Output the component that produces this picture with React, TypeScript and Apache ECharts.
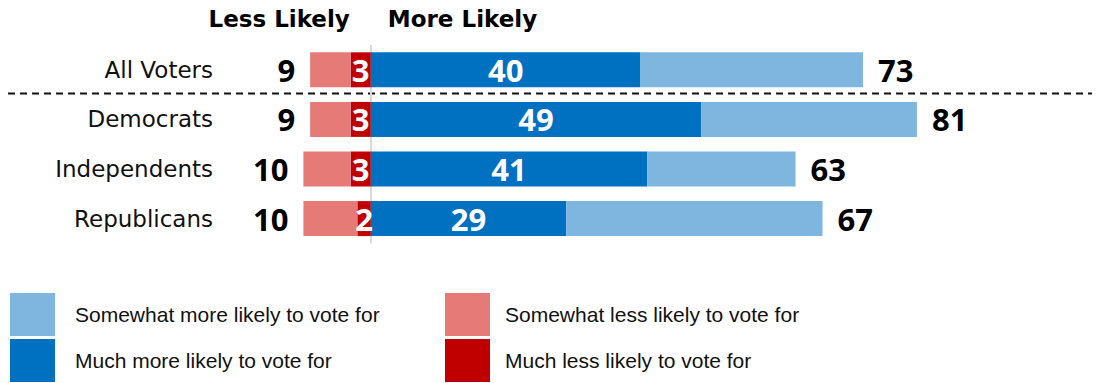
import React, { useEffect, useRef } from "react";
import * as echarts from "echarts";

const categories = ["All Voters", "Democrats", "Independents", "Republicans"];
const muchMore = [40, 49, 41, 29];
const somewhatMore = [33, 32, 22, 38];
const moreTotal = [73, 81, 63, 67];
const muchLess = [3, 3, 3, 2];
const somewhatLess = [6, 6, 7, 8];
const lessTotal = [9, 9, 10, 10];

const seriesNames = {
  somewhatMore: "Somewhat more likely to vote for",
  muchMore: "Much more likely to vote for",
  somewhatLess: "Somewhat less likely to vote for",
  muchLess: "Much less likely to vote for",
};

const colors = {
  somewhatMore: "#7FB6DF",
  muchMore: "#0070C0",
  somewhatLess: "#E57A77",
  muchLess: "#C00000",
};

const numFont = {
  fontFamily: "Open Sans",
  fontWeight: "bold" as const,
  fontSize: 31,
};

export default function App() {
  const ref = useRef<HTMLDivElement>(null);

  useEffect(() => {
    if (!ref.current) return;
    const chart = echarts.init(ref.current, null, { renderer: "svg" });

    const legendCommon = {
      orient: "vertical" as const,
      top: 293,
      height: 90,
      itemWidth: 45,
      itemHeight: 43,
      itemGap: 3,
      padding: 0,
      icon: "rect",
      selectedMode: false,
    };

    const option: any = {
      animation: false,
      backgroundColor: "#ffffff",
      grid: { left: 236, right: 51, top: 45, height: 198.4, containLabel: false },
      xAxis: {
        type: "value",
        min: -20,
        max: 100,
        show: false,
      },
      yAxis: {
        type: "category",
        inverse: true,
        data: categories,
        axisLine: { show: false },
        axisTick: { show: false },
        splitLine: { show: false },
        axisLabel: {
          margin: 23,
          fontSize: 23,
          fontFamily: "DejaVu Sans",
          color: "#111111",
        },
      },
      legend: [
        {
          ...legendCommon,
          left: 10,
          data: [seriesNames.somewhatMore, seriesNames.muchMore],
          textStyle: {
            fontFamily: "Liberation Sans",
            fontSize: 21,
            color: "#111111",
            padding: [0, 0, 0, 15],
          },
        },
        {
          ...legendCommon,
          left: 445,
          data: [seriesNames.somewhatLess, seriesNames.muchLess],
          textStyle: {
            fontFamily: "Liberation Sans",
            fontSize: 21,
            color: "#111111",
            padding: [0, 0, 0, 10],
          },
        },
      ],
      series: [
        {
          name: seriesNames.muchLess,
          type: "bar",
          stack: "s",
          barWidth: 35,
          data: muchLess.map((v) => -v),
          itemStyle: { color: colors.muchLess },
          label: {
            show: true,
            position: "inside",
            color: "#ffffff",
            ...numFont,
            formatter: (p: any) => String(muchLess[p.dataIndex]),
          },
          markLine: {
            silent: true,
            symbol: "none",
            label: { show: false },
            lineStyle: { color: "#d9d9d9", width: 2, type: "solid" },
            data: [{ xAxis: 0 }],
            z: 1,
          },
        },
        {
          name: seriesNames.somewhatLess,
          type: "bar",
          stack: "s",
          barWidth: 35,
          data: somewhatLess.map((v) => -v),
          itemStyle: { color: colors.somewhatLess },
          label: {
            show: true,
            position: "left",
            distance: 15,
            color: "#000000",
            ...numFont,
            formatter: (p: any) => String(lessTotal[p.dataIndex]),
          },
        },
        {
          name: seriesNames.muchMore,
          type: "bar",
          stack: "s",
          barWidth: 35,
          data: muchMore,
          itemStyle: { color: colors.muchMore },
          label: {
            show: true,
            position: "inside",
            color: "#ffffff",
            ...numFont,
            formatter: (p: any) => String(muchMore[p.dataIndex]),
          },
        },
        {
          name: seriesNames.somewhatMore,
          type: "bar",
          stack: "s",
          barWidth: 35,
          data: somewhatMore,
          itemStyle: { color: colors.somewhatMore },
          label: {
            show: true,
            position: "right",
            distance: 15,
            color: "#000000",
            ...numFont,
            formatter: (p: any) => String(moreTotal[p.dataIndex]),
          },
        },
      ],
    };

    chart.setOption(option);

    const yA = chart.convertToPixel({ yAxisIndex: 0 }, categories[0]) as number;
    const yB = chart.convertToPixel({ yAxisIndex: 0 }, categories[1]) as number;
    const ySep = (yA + yB) / 2 - 1;
    const x0 = chart.convertToPixel({ xAxisIndex: 0 }, 0) as number;

    chart.setOption({
      graphic: [
        {
          type: "line",
          shape: { x1: 8, y1: ySep, x2: 1092, y2: ySep },
          style: { stroke: "#111111", lineWidth: 2, lineDash: [7, 5] },
          silent: true,
        },
        {
          type: "text",
          x: x0 - 21,
          y: 19,
          style: {
            text: "Less Likely",
            fontFamily: "DejaVu Sans",
            fontWeight: "bold",
            fontSize: 23,
            fill: "#000000",
            align: "right",
            verticalAlign: "middle",
          },
        },
        {
          type: "text",
          x: x0 + 17,
          y: 19,
          style: {
            text: "More Likely",
            fontFamily: "DejaVu Sans",
            fontWeight: "bold",
            fontSize: 23,
            fill: "#000000",
            align: "left",
            verticalAlign: "middle",
          },
        },
      ],
    });

    return () => chart.dispose();
  }, []);

  return (
    <div
      ref={ref}
      style={{ position: "absolute", left: 0, top: 0, width: 1096, height: 383 }}
    />
  );
}
